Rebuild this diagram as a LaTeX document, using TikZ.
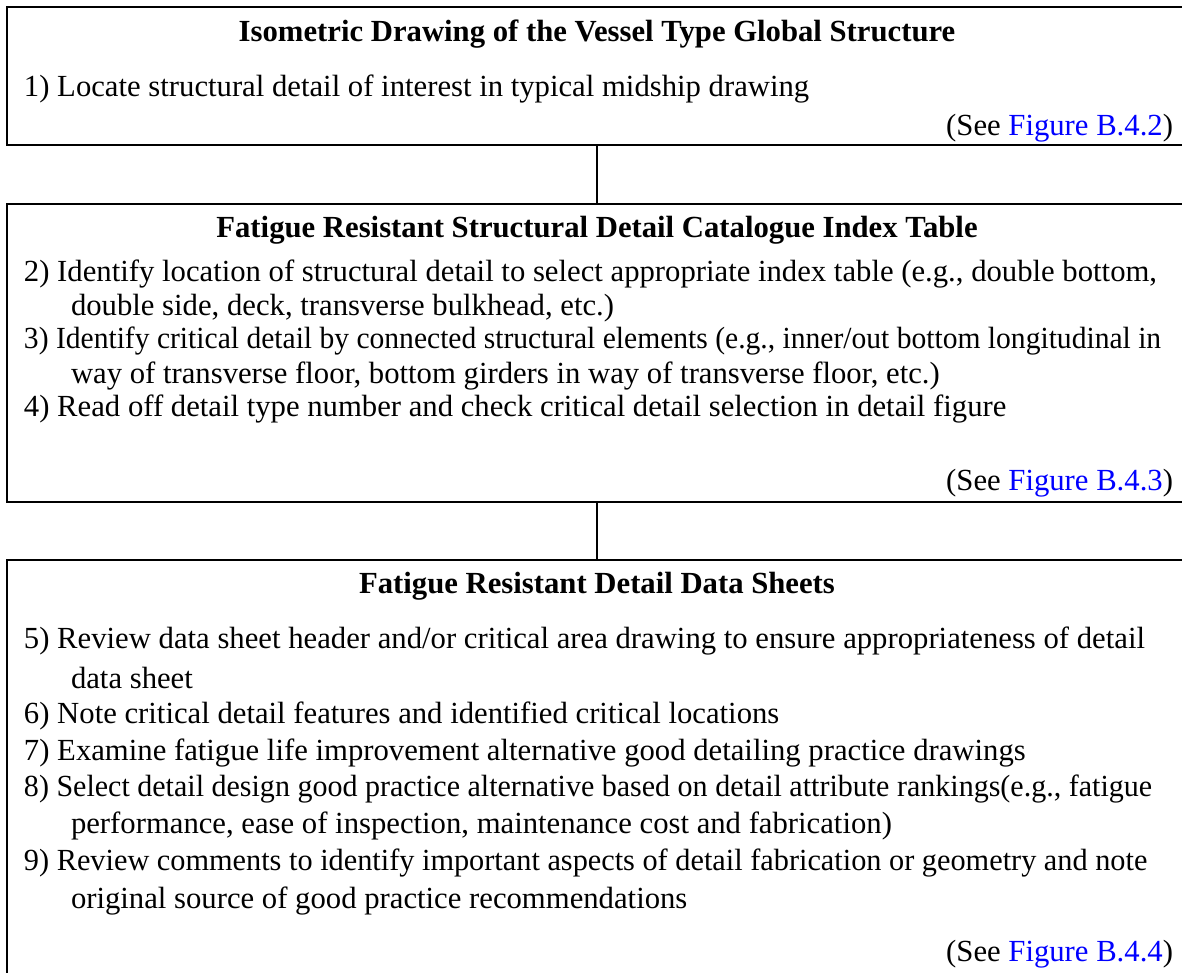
\documentclass[tikz,border=0pt]{standalone}
\usepackage{fontspec}
\usepackage{graphicx}
\setmainfont{Liberation Serif}
\definecolor{linkblue}{RGB}{0,0,255}
\begin{document}
\begin{tikzpicture}[x=0.5pt,y=-0.5pt,
  every node/.style={inner sep=0pt, outer sep=0pt, font=\fontsize{15.35pt}{18pt}\selectfont},
  box/.style={draw=black, line width=1pt, anchor=north west, minimum width=590pt},
  conn/.style={draw=black, line width=1pt},
  ttl/.style={anchor=base, font=\fontsize{15.35pt}{18pt}\selectfont\bfseries},
  item/.style={anchor=base west},
  see/.style={anchor=base east}]
\useasboundingbox (0,0) rectangle (1182,973);
\clip (0,0) rectangle (1182,973);
% boxes
\node[box, minimum height=69pt] (b1) at (7,7.5) {};
\node[box, minimum height=149pt] (b2) at (7,204) {};
\node[box, minimum height=220pt] (b3) at (7,560) {};
% connectors
\draw[conn] (b1.south) -- (b2.north);
\draw[conn] (b2.south) -- (b3.north);
% box 1
\node[ttl] (t1) at (597,41.7) {Isometric Drawing of the Vessel Type Global Structure};
\node[item] (l1) at (24,97) {1) Locate structural detail of interest in typical midship drawing};
\node[see] (s1) at (1173,136) {(See \textcolor{linkblue}{Figure B.4.2})};
% box 2
\node[ttl] (t2) at (597,237.3) {Fatigue Resistant Structural Detail Catalogue Index Table};
\node[item] (l2) at (24,281.7) {2) Identify location of structural detail to select appropriate index table (e.g., double bottom,};
\node[item] (l2b) at (71,315) {double side, deck, transverse bulkhead, etc.)};
\node[item] (l3) at (24,348.3) {\scalebox{0.963}[1]{3) Identify critical detail by connected structural elements (e.g., inner/out bottom longitudinal in}};
\node[item] (l3b) at (71,383) {way of transverse floor, bottom girders in way of transverse floor, etc.)};
\node[item] (l4) at (24,416.7) {4) Read off detail type number and check critical detail selection in detail figure};
\node[see] (s2) at (1173,490) {(See \textcolor{linkblue}{Figure B.4.3})};
% box 3
\node[ttl] (t3) at (597,593.3) {Fatigue Resistant Detail Data Sheets};
\node[item] (l5) at (24,648.3) {5) Review data sheet header and/or critical area drawing to ensure appropriateness of detail};
\node[item] (l5b) at (71,688.3) {data sheet};
\node[item] (l6) at (24,723.3) {6) Note critical detail features and identified critical locations};
\node[item] (l7) at (24,760) {7) Examine fatigue life improvement alternative good detailing practice drawings};
\node[item] (l8) at (24,796.7) {\scalebox{0.978}[1]{8) Select detail design good practice alternative based on detail attribute rankings(e.g., fatigue}};
\node[item] (l8b) at (71,833.3) {performance, ease of inspection, maintenance cost and fabrication)};
\node[item] (l9) at (24,870) {\scalebox{0.987}[1]{9) Review comments to identify important aspects of detail fabrication or geometry and note}};
\node[item] (l9b) at (71,908.3) {original source of good practice recommendations};
\node[see] (s3) at (1173,961.7) {(See \textcolor{linkblue}{Figure B.4.4})};
\end{tikzpicture}
\end{document}
